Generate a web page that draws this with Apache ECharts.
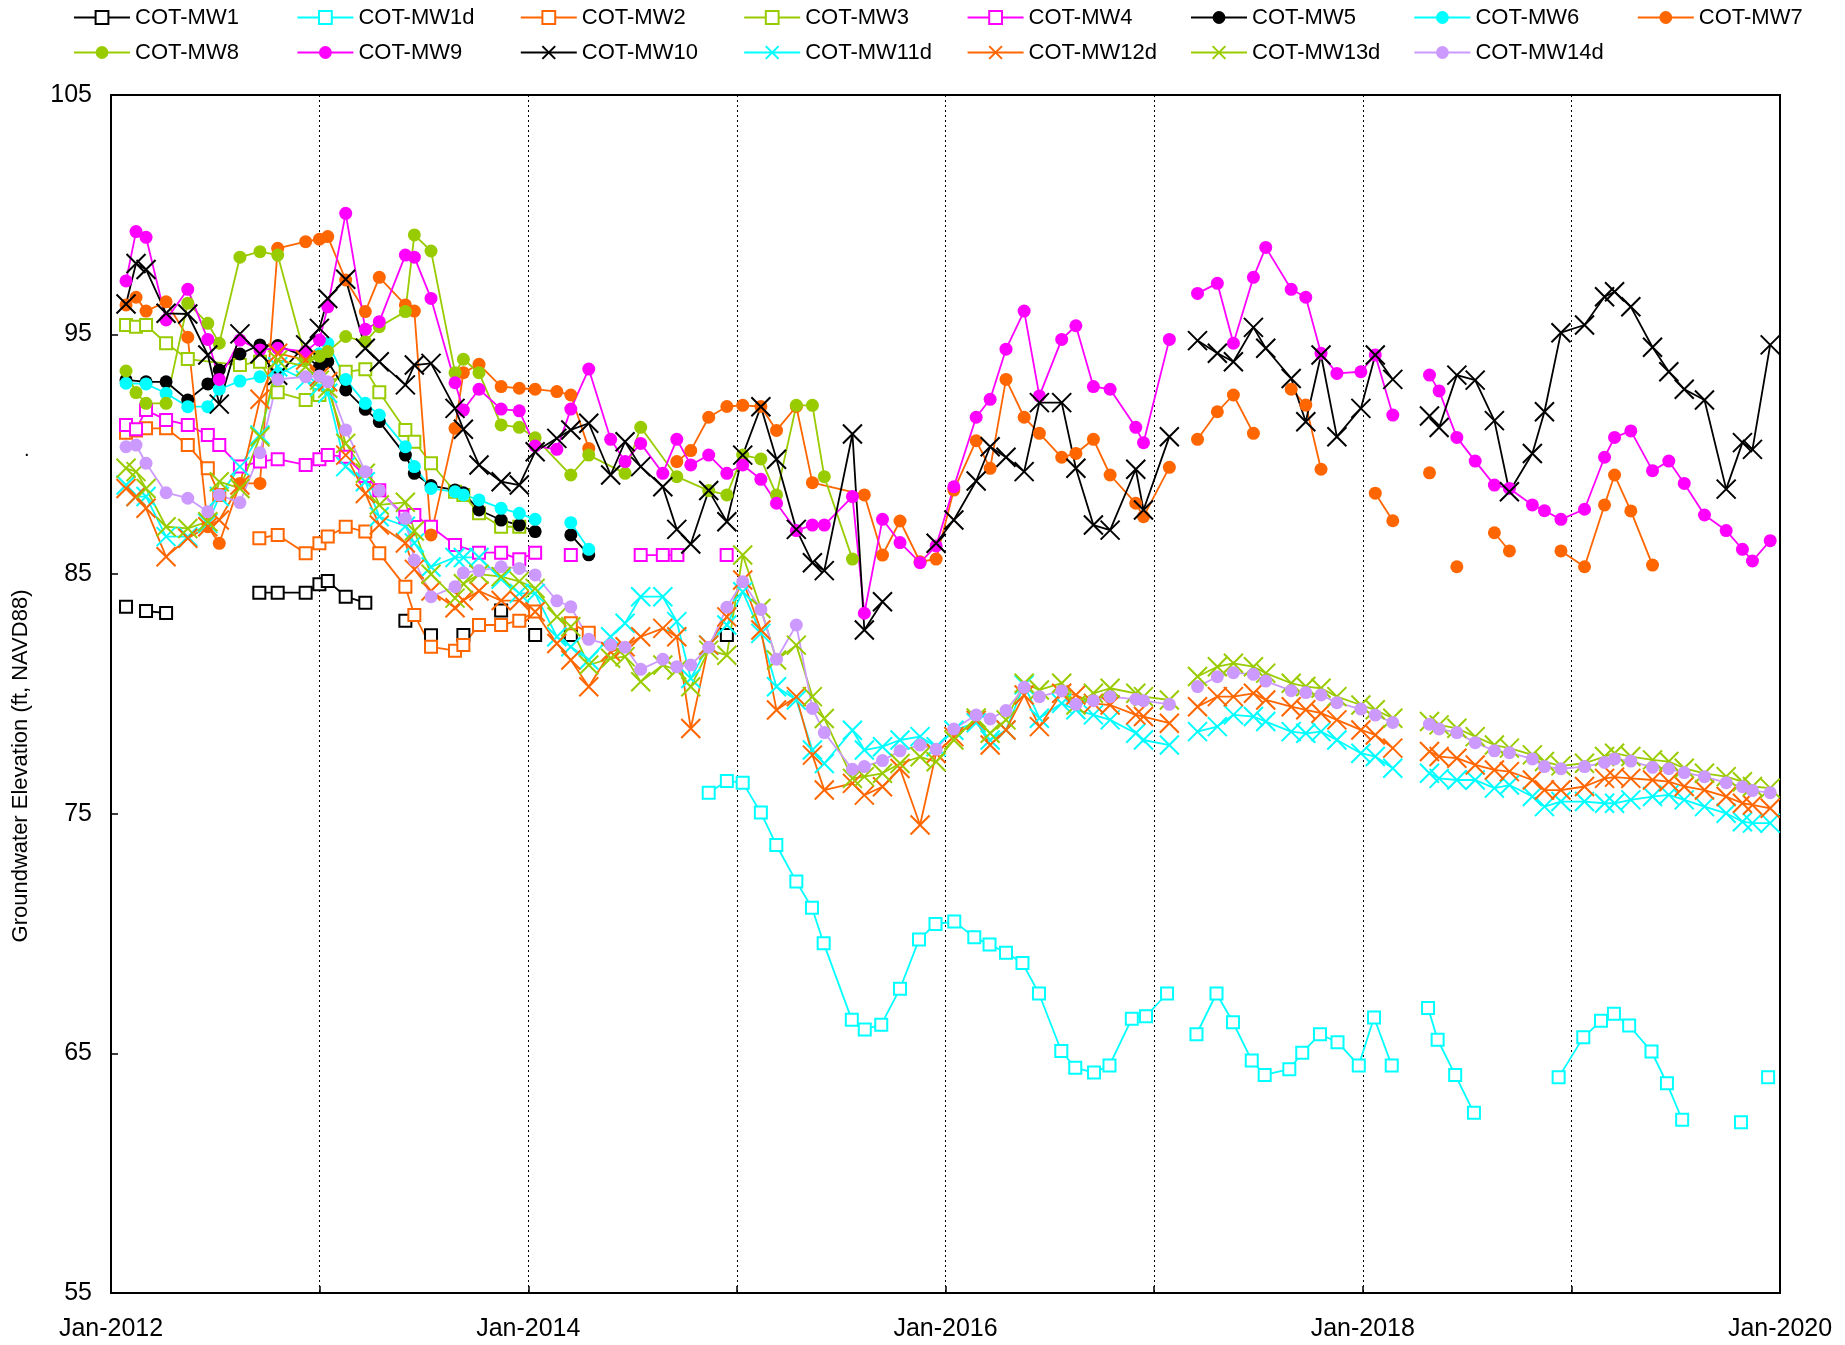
<!DOCTYPE html>
<html><head><meta charset="utf-8">
<script src="https://cdn.jsdelivr.net/npm/echarts@6/dist/echarts.min.js"></script>
<style>html,body{margin:0;padding:0;background:#fff}#c{width:1845px;height:1345px}</style>
</head><body><div id="c"></div>
<script>
// ---- tick labels / axis ----
const yTicks = [55, 65, 75, 85, 95, 105];
const xYears = [2012, 2013, 2014, 2015, 2016, 2017, 2018, 2019, 2020];
const yTitle = 'Groundwater Elevation (ft, NAVD88)';

// ---- series names ----
const names = ['COT-MW1','COT-MW1d','COT-MW2','COT-MW3','COT-MW4','COT-MW5','COT-MW6','COT-MW7',
               'COT-MW8','COT-MW9','COT-MW10','COT-MW11d','COT-MW12d','COT-MW13d','COT-MW14d'];

// ---- data: [decimal year, value]; null value = gap in the line ----
const mw1 = [[2012.072,83.64],[2012.12,null],[2012.168,83.46],[2012.264,83.38],[2012.5,null],
 [2012.711,84.23],[2012.799,84.23],[2012.933,84.23],[2012.999,84.58],[2013.039,84.72],[2013.125,84.06],[2013.219,83.81],
 [2013.3,null],[2013.411,83.06],[2013.47,null],[2013.534,82.45],[2013.6,null],[2013.689,82.46],[2013.78,null],
 [2013.87,83.48],[2013.95,null],[2014.033,82.46],[2014.1,null],[2014.204,82.46],[2014.5,null],[2014.952,82.46]];

const mw1d = [[2014.865,75.88],[2014.952,76.37],[2015.028,76.30],[2015.115,75.05],[2015.189,73.70],[2015.285,72.17],
 [2015.36,71.08],[2015.416,69.6],[2015.551,66.4],[2015.613,66.0],[2015.692,66.2],[2015.782,67.7],[2015.873,69.75],
 [2015.952,70.4],[2016.042,70.5],[2016.138,69.85],[2016.211,69.55],[2016.29,69.2],[2016.369,68.77],[2016.448,67.5],
 [2016.555,65.1],[2016.622,64.4],[2016.712,64.2],[2016.786,64.5],[2016.893,66.45],[2016.961,66.55],[2017.062,67.5],
 [2017.13,null],[2017.203,65.8],[2017.299,67.5],[2017.378,66.3],[2017.468,64.7],[2017.53,64.1],[2017.648,64.34],
 [2017.71,65.03],[2017.795,65.8],[2017.879,65.47],[2017.981,64.5],[2018.054,66.5],[2018.139,64.5],[2018.23,null],
 [2018.313,66.9],[2018.359,65.57],[2018.443,64.1],[2018.533,62.52],[2018.7,null],[2018.939,64.0],[2019.057,65.67],
 [2019.142,66.36],[2019.204,66.65],[2019.277,66.16],[2019.384,65.08],[2019.458,63.75],[2019.531,62.23],[2019.7,null],
 [2019.813,62.13],[2019.88,null],[2019.943,64.0]];

const mw2 = [[2012.072,90.9],[2012.12,91.0],[2012.168,91.09],[2012.264,91.09],[2012.368,90.39],[2012.464,89.42],
 [2012.519,88.31],[2012.6,null],[2012.711,86.50],[2012.799,86.64],[2012.933,85.87],[2012.999,86.29],[2013.039,86.57],
 [2013.125,86.98],[2013.219,86.78],[2013.286,85.87],[2013.411,84.48],[2013.454,83.30],[2013.534,81.97],[2013.649,81.81],
 [2013.689,82.05],[2013.764,82.88],[2013.87,82.88],[2013.957,83.06],[2014.033,83.44],[2014.1,null],[2014.204,82.95],[2014.29,82.56]];

const mw3 = [[2012.072,95.40],[2012.12,95.33],[2012.168,95.40],[2012.264,94.64],[2012.368,93.98],[2012.618,93.73],
 [2012.714,93.87],[2012.799,92.59],[2012.933,92.27],[2012.999,92.48],[2013.039,92.9],[2013.125,93.45],[2013.219,93.55],
 [2013.286,92.59],[2013.411,91.02],[2013.454,90.53],[2013.534,89.63],[2013.649,88.44],[2013.689,88.31],[2013.764,87.54],
 [2013.87,86.98],[2013.957,86.98]];

const mw4 = [[2012.072,91.23],[2012.12,91.05],[2012.168,91.85],[2012.264,91.44],[2012.368,91.23],[2012.464,90.81],
 [2012.519,90.39],[2012.618,89.49],[2012.714,89.70],[2012.799,89.80],[2012.933,89.56],[2012.999,89.80],[2013.039,89.98],
 [2013.125,89.9],[2013.219,89.1],[2013.286,88.5],[2013.411,87.4],[2013.454,87.47],[2013.534,86.98],[2013.649,86.22],
 [2013.764,85.90],[2013.87,85.90],[2013.957,85.62],[2014.033,85.90],[2014.1,null],[2014.204,85.8],[2014.3,null],
 [2014.539,85.8],[2014.645,85.8],[2014.715,85.8],[2014.8,null],[2014.951,85.8]];

const mw5 = [[2012.072,93.11],[2012.168,93.03],[2012.264,93.03],[2012.368,92.27],[2012.464,92.94],[2012.519,93.52],
 [2012.618,94.19],[2012.714,94.57],[2012.799,94.54],[2012.933,94.08],[2012.999,93.66],[2013.039,93.87],[2013.125,92.69],
 [2013.219,91.88],[2013.286,91.37],[2013.411,89.97],[2013.454,89.21],[2013.534,88.7],[2013.649,88.51],[2013.689,88.4],
 [2013.764,87.68],[2013.87,87.26],[2013.957,87.05],[2014.033,86.78],[2014.1,null],[2014.204,86.64],[2014.29,85.81]];

const mw6 = [[2012.072,92.97],[2012.168,92.94],[2012.264,92.55],[2012.368,91.99],[2012.464,91.99],[2012.519,92.72],
 [2012.618,93.06],[2012.714,93.24],[2012.799,93.3],[2012.933,93.94],[2012.999,94.2],[2013.039,94.64],[2013.125,93.13],
 [2013.219,92.13],[2013.286,91.64],[2013.411,90.32],[2013.454,89.49],[2013.534,88.58],[2013.649,88.44],[2013.689,88.31],
 [2013.764,88.1],[2013.87,87.75],[2013.957,87.54],[2014.033,87.29],[2014.1,null],[2014.204,87.15],[2014.29,86.04]];

const mw7 = [[2012.072,96.24],[2012.12,96.56],[2012.168,95.98],[2012.264,96.37],[2012.368,94.89],[2012.464,86.98],
 [2012.519,86.29],[2012.618,88.79],[2012.714,88.79],[2012.799,98.6],[2012.933,98.88],[2012.999,98.98],[2013.039,99.09],
 [2013.125,97.28],[2013.219,95.96],[2013.286,97.39],[2013.411,96.24],[2013.454,95.98],[2013.534,86.64],[2013.649,91.09],
 [2013.689,93.41],[2013.764,93.76],[2013.87,92.83],[2013.957,92.76],[2014.033,92.72],[2014.137,92.62],[2014.204,92.48],
 [2014.29,90.25],[2014.5,null],[2014.712,89.7],[2014.779,90.16],[2014.865,91.55],[2014.952,92.0],[2015.028,92.05],
 [2015.115,92.0],[2015.19,91.0],[2015.285,92.0],[2015.362,88.82],[2015.611,88.31],[2015.698,85.8],[2015.782,87.22],
 [2015.878,85.52],[2015.955,85.63],[2016.04,88.51],[2016.147,90.57],[2016.214,89.42],[2016.29,93.13],[2016.377,91.55],
 [2016.45,90.88],[2016.557,89.88],[2016.625,90.04],[2016.709,90.63],[2016.789,89.14],[2016.912,87.96],[2016.949,87.40],
 [2017.073,89.46],[2017.14,null],[2017.208,90.63],[2017.303,91.78],[2017.38,92.48],[2017.476,90.88],[2017.56,null],
 [2017.657,92.72],[2017.727,92.06],[2017.8,89.38],[2017.93,null],[2018.06,88.38],[2018.144,87.23],[2018.23,null],
 [2018.32,89.23],[2018.4,null],[2018.451,85.31],[2018.55,null],[2018.631,86.73],[2018.703,85.97],[2018.83,null],
 [2018.95,85.97],[2019.063,85.31],[2019.159,87.89],[2019.207,89.14],[2019.285,87.64],[2019.389,85.38]];

const mw8 = [[2012.072,93.48],[2012.12,92.58],[2012.168,92.13],[2012.264,92.13],[2012.368,96.31],[2012.464,95.47],
 [2012.519,94.64],[2012.618,98.23],[2012.714,98.46],[2012.799,98.32],[2012.933,94.0],[2012.999,94.1],[2013.039,94.29],
 [2013.125,94.92],[2013.219,94.71],[2013.286,95.33],[2013.411,95.96],[2013.454,99.16],[2013.534,98.49],[2013.649,93.41],
 [2013.689,93.97],[2013.764,93.41],[2013.87,91.23],[2013.957,91.13],[2014.033,90.69],[2014.204,89.14],[2014.29,89.97],
 [2014.464,89.21],[2014.539,91.13],[2014.712,89.07],[2014.865,88.49],[2014.952,88.31],[2015.028,89.97],[2015.115,89.81],
 [2015.19,88.31],[2015.285,92.05],[2015.362,92.05],[2015.419,89.07],[2015.554,85.63]];

const mw9 = [[2012.072,97.24],[2012.12,99.30],[2012.168,99.06],[2012.264,95.61],[2012.368,96.89],[2012.464,94.80],
 [2012.519,93.13],[2012.618,94.77],[2012.714,94.36],[2012.799,94.43],[2012.933,94.29],[2012.999,94.77],[2013.039,96.16],
 [2013.125,100.06],[2013.219,95.22],[2013.286,95.54],[2013.411,98.32],[2013.454,98.23],[2013.534,96.51],[2013.649,92.99],
 [2013.689,91.85],[2013.764,92.72],[2013.87,91.89],[2013.957,91.82],[2014.033,90.35],[2014.137,90.21],[2014.204,91.89],
 [2014.29,93.56],[2014.395,90.63],[2014.464,89.7],[2014.539,90.46],[2014.645,89.21],[2014.712,90.63],[2014.779,89.56],
 [2014.865,89.97],[2014.952,89.21],[2015.028,89.56],[2015.115,88.96],[2015.19,87.96],[2015.285,86.82],[2015.362,87.05],
 [2015.419,87.05],[2015.554,88.24],[2015.611,83.37],[2015.698,87.29],[2015.782,86.32],[2015.878,85.48],[2015.955,86.18],
 [2016.04,88.65],[2016.147,91.55],[2016.214,92.30],[2016.29,94.39],[2016.377,95.98],[2016.45,92.44],[2016.557,94.80],
 [2016.625,95.37],[2016.709,92.83],[2016.789,92.72],[2016.912,91.13],[2016.949,90.49],[2017.073,94.80],[2017.14,null],
 [2017.208,96.72],[2017.303,97.14],[2017.38,94.64],[2017.476,97.39],[2017.535,98.64],[2017.657,96.89],[2017.727,96.56],
 [2017.8,94.22],[2017.876,93.38],[2017.991,93.45],[2018.06,94.15],[2018.144,91.64],[2018.23,null],[2018.32,93.31],
 [2018.366,92.65],[2018.451,90.71],[2018.539,89.72],[2018.631,88.72],[2018.703,88.58],[2018.813,87.89],[2018.871,87.65],
 [2018.95,87.29],[2019.063,87.71],[2019.159,89.88],[2019.207,90.71],[2019.285,90.98],[2019.389,89.32],[2019.467,89.72],
 [2019.541,88.79],[2019.638,87.47],[2019.742,86.82],[2019.82,86.04],[2019.868,85.55],[2019.953,86.40]];

const mw10 = [[2012.072,96.28],[2012.12,97.97],[2012.168,97.72],[2012.264,95.89],[2012.368,95.86],[2012.464,94.15],
 [2012.519,92.10],[2012.618,95.03],[2012.714,94.2],[2012.799,93.3],[2012.933,94.57],[2012.999,95.26],[2013.039,96.51],
 [2013.125,97.31],[2013.219,94.43],[2013.286,93.87],[2013.411,92.90],[2013.454,93.73],[2013.534,93.80],[2013.649,91.92],
 [2013.689,91.05],[2013.764,89.56],[2013.87,88.86],[2013.957,88.72],[2014.033,90.11],[2014.137,90.67],[2014.204,91.02],
 [2014.29,91.30],[2014.395,89.14],[2014.464,90.53],[2014.539,89.49],[2014.645,88.65],[2014.712,86.87],[2014.779,86.26],
 [2014.865,88.49],[2014.952,87.19],[2015.028,89.97],[2015.115,91.99],[2015.19,89.8],[2015.285,86.87],[2015.362,85.48],
 [2015.419,85.15],[2015.554,90.85],[2015.611,82.67],[2015.698,83.85],[2015.83,null],[2015.955,86.29],[2016.04,87.26],
 [2016.147,88.89],[2016.214,90.32],[2016.29,89.88],[2016.377,89.28],[2016.45,92.16],[2016.557,92.16],[2016.625,89.42],
 [2016.709,87.05],[2016.789,86.84],[2016.912,89.38],[2016.949,87.68],[2017.073,90.74],[2017.14,null],[2017.208,94.75],
 [2017.303,94.22],[2017.38,93.87],[2017.476,95.30],[2017.535,94.43],[2017.657,93.17],[2017.727,91.36],[2017.8,94.15],
 [2017.876,90.74],[2017.991,91.92],[2018.06,94.15],[2018.144,93.13],[2018.23,null],[2018.32,91.60],[2018.366,91.12],
 [2018.451,93.31],[2018.539,93.1],[2018.631,91.41],[2018.703,88.44],[2018.813,90.04],[2018.871,91.78],[2018.95,95.08],
 [2019.063,95.40],[2019.159,96.58],[2019.207,96.79],[2019.285,96.16],[2019.389,94.47],[2019.467,93.45],[2019.541,92.72],
 [2019.638,92.27],[2019.742,88.55],[2019.82,90.49],[2019.868,90.21],[2019.953,94.57]];

// deep wells share sampling dates; null = no reading (gap)
const tDeep = [2012.072,2012.12,2012.168,2012.264,2012.368,2012.464,2012.519,2012.618,2012.714,2012.799,2012.933,2012.999,
 2013.039,2013.125,2013.219,2013.286,2013.411,2013.454,2013.534,2013.649,2013.689,2013.764,2013.870,2013.957,
 2014.033,2014.137,2014.204,2014.29,2014.395,2014.464,2014.539,2014.645,2014.712,2014.779,2014.865,2014.952,
 2015.028,2015.115,2015.19,2015.285,2015.362,2015.419,2015.554,2015.611,2015.698,2015.782,2015.878,2015.955,
 2016.04,2016.147,2016.214,2016.29,2016.377,2016.45,2016.557,2016.625,2016.709,2016.789,2016.912,2016.949,
 2017.073,2017.14,2017.208,2017.303,2017.38,2017.476,2017.535,2017.657,2017.727,2017.8,2017.876,2017.991,
 2018.06,2018.144,2018.23,2018.32,2018.366,2018.451,2018.539,2018.631,2018.703,2018.813,2018.871,2018.95,
 2019.063,2019.159,2019.207,2019.285,2019.389,2019.467,2019.541,2019.638,2019.742,2019.82,2019.868,2019.953];

const mw11d = [88.72,88.24,88.24,86.57,86.57,87.12,88.24,89.49,90.81,93.66,93.10,92.82,
 92.55,89.49,88.86,87.40,87.00,86.30,85.30,85.70,85.70,85.70,84.80,84.20,
 84.20,82.39,81.97,81.42,82.39,82.95,84.06,84.06,83.02,80.65,82.04,82.88,
 84.27,82.53,80.30,79.75,77.66,77.10,78.49,77.66,77.80,78.08,78.22,77.80,
 78.49,78.80,78.08,78.50,80.38,78.99,79.61,79.34,79.13,78.92,78.36,78.08,
 77.87,null,78.43,78.64,79.13,79.06,78.85,78.43,78.36,78.43,78.08,77.53,
 77.39,76.90,null,76.69,76.48,76.41,76.41,76.07,76.20,75.72,75.30,75.51,
 75.51,75.44,75.44,75.58,75.72,75.79,75.58,75.30,75.02,74.67,74.61,74.61];

const mw12d = [88.58,88.24,87.75,85.73,86.50,86.98,87.26,88.72,92.30,94.22,93.94,93.24,
 93.03,89.97,88.37,87.05,86.30,85.20,84.30,83.60,83.90,84.30,83.90,83.90,
 83.43,82.11,81.42,80.30,81.76,81.97,82.39,82.74,82.39,78.56,82.04,83.22,
 84.76,82.67,79.33,79.89,77.45,75.99,76.27,75.78,76.13,76.89,74.53,77.52,
 78.22,78.90,77.87,78.50,79.96,78.64,80.03,79.96,79.61,79.54,79.13,79.06,
 78.78,null,79.47,79.89,79.89,80.03,79.75,79.47,79.34,79.20,78.92,78.50,
 78.29,77.74,null,77.60,77.39,77.32,77.04,76.83,76.76,76.41,75.99,75.99,
 76.14,76.48,76.53,76.48,76.41,76.34,76.14,75.99,75.72,75.44,75.37,75.23];

const mw13d = [89.42,89.28,88.58,86.98,86.91,87.19,88.86,88.58,90.74,93.94,93.66,93.10,
 92.76,90.46,89.21,87.89,88.00,86.80,85.00,84.00,84.60,85.00,84.90,84.70,
 84.41,83.22,82.81,81.21,81.49,81.56,80.51,81.21,81.00,80.30,81.83,81.62,
 85.80,83.57,81.42,82.04,79.89,78.98,76.48,76.55,76.69,77.10,77.38,77.17,
 78.08,79.00,78.36,78.92,80.45,80.17,80.45,79.54,80.03,80.24,80.03,79.89,
 79.75,null,80.73,81.14,81.28,81.14,80.87,80.45,80.31,80.24,79.89,79.54,
 79.34,78.99,null,78.85,78.71,78.57,78.22,77.87,77.74,77.46,77.18,77.00,
 77.11,77.39,77.53,77.39,77.25,77.18,76.90,76.69,76.55,76.34,76.14,76.07];

const mw14d = [90.32,90.39,89.63,88.40,88.17,87.61,88.31,87.99,90.07,93.13,93.24,93.27,
 93.03,91.02,89.28,88.49,87.33,85.59,84.06,84.48,85.06,85.15,85.31,85.24,
 84.97,83.89,83.64,82.28,82.05,81.95,81.03,81.45,81.14,81.21,81.95,83.62,
 84.69,83.53,81.45,82.88,79.40,78.39,76.86,76.97,77.22,77.63,77.87,77.69,
 78.54,79.12,78.96,79.31,80.28,79.89,80.13,79.57,79.72,79.89,79.78,79.72,
 79.57,null,80.31,80.72,80.89,80.82,80.54,80.14,80.06,79.96,79.64,79.37,
 79.12,78.81,null,78.74,78.54,78.39,77.97,77.63,77.55,77.29,76.97,76.88,
 76.97,77.14,77.29,77.20,76.94,76.88,76.72,76.55,76.30,76.13,75.97,75.88];

// ---- styling ----
const C = {black:'#000000', cyan:'#00FFFF', orange:'#FF6600', green:'#99CC00', magenta:'#FF00FF', lav:'#CC99FF'};
const FONT = '"Liberation Sans", Arial, sans-serif';
const X_PATH = 'path://M0,0L10,10M10,0L0,10';

function fromPairs(arr){ return arr.map(d => [d[0], d[1] == null ? '-' : d[1]]); }
function fromTimes(ts, vs){ return ts.map((t,i) => [t, vs[i] == null ? '-' : vs[i]]); }

function mk(name, data, color, kind){
  const s = {name, type:'line', data, connectNulls:false, animation:false, silent:true,
    lineStyle:{color, width:1.8}, emphasis:{disabled:true}};
  if (kind === 'sq'){ s.symbol='rect'; s.symbolSize=12; s.itemStyle={color:'#fff', borderColor:color, borderWidth:2}; }
  else if (kind === 'dot'){ s.symbol='circle'; s.symbolSize=13; s.itemStyle={color, borderColor:color, borderWidth:0}; }
  else { s.symbol=X_PATH; s.symbolSize=19; s.itemStyle={color, borderColor:color, borderWidth:2}; }
  return s;
}

const series = [
  mk(names[0], fromPairs(mw1), C.black, 'sq'),
  mk(names[1], fromPairs(mw1d), C.cyan, 'sq'),
  mk(names[2], fromPairs(mw2), C.orange, 'sq'),
  mk(names[3], fromPairs(mw3), C.green, 'sq'),
  mk(names[4], fromPairs(mw4), C.magenta, 'sq'),
  mk(names[5], fromPairs(mw5), C.black, 'dot'),
  mk(names[6], fromPairs(mw6), C.cyan, 'dot'),
  mk(names[7], fromPairs(mw7), C.orange, 'dot'),
  mk(names[8], fromPairs(mw8), C.green, 'dot'),
  mk(names[9], fromPairs(mw9), C.magenta, 'dot'),
  mk(names[10], fromPairs(mw10), C.black, 'x'),
  mk(names[11], fromTimes(tDeep, mw11d), C.cyan, 'x'),
  mk(names[12], fromTimes(tDeep, mw12d), C.orange, 'x'),
  mk(names[13], fromTimes(tDeep, mw13d), C.green, 'x'),
  mk(names[14], fromTimes(tDeep, mw14d), C.lav, 'dot')
];

const legendBase = {
  left:68, padding:5, width:1900, itemGap:10.4, itemWidth:56, itemHeight:16, selectedMode:false,
  textStyle:{fontSize:22, color:'#000', fontFamily:FONT, width:151, lineHeight:25, height:25}
};

const chart = echarts.init(document.getElementById('c'), null, {renderer:'canvas'});
chart.setOption({
  animation:false,
  backgroundColor:'#fff',
  textStyle:{fontFamily:FONT},
  grid:{left:111, right:65, top:95, bottom:52, show:true, borderColor:'#000', borderWidth:2, backgroundColor:'transparent'},
  legend:[
    Object.assign({}, legendBase, {top:0, data:names.slice(0, 8)}),
    Object.assign({}, legendBase, {top:35, data:names.slice(8)})
  ],
  xAxis:{
    type:'value', min:xYears[0], max:xYears[xYears.length-1], interval:1,
    axisLine:{show:true, onZero:false, lineStyle:{color:'#000', width:2}},
    axisTick:{show:true, inside:true, length:7, lineStyle:{color:'#000', width:1.5}},
    axisLabel:{fontSize:25, color:'#000', margin:24, fontFamily:FONT,
      formatter: v => (xYears.indexOf(v) >= 0 && v % 2 === 0) ? 'Jan-' + v : ''},
    splitLine:{show:true, lineStyle:{color:'#000', width:1, type:[2,3]}}
  },
  yAxis:{
    type:'value', min:yTicks[0], max:yTicks[yTicks.length-1], interval:10,
    axisLine:{show:true, onZero:false, lineStyle:{color:'#000', width:2}},
    axisTick:{show:true, inside:true, length:7, lineStyle:{color:'#000', width:1.5}},
    axisLabel:{fontSize:25, color:'#000', margin:19, fontFamily:FONT},
    splitLine:{show:false}
  },
  graphic:[
    {type:'text', x:21, y:766, rotation:Math.PI/2,
     style:{text:yTitle, fontSize:22, fill:'#000', font:'22px ' + FONT, align:'center', verticalAlign:'middle'}},
    {type:'text', x:24, y:440, style:{text:'.', font:'20px ' + FONT, fill:'#000'}}
  ],
  series
});
</script>
</body></html>
